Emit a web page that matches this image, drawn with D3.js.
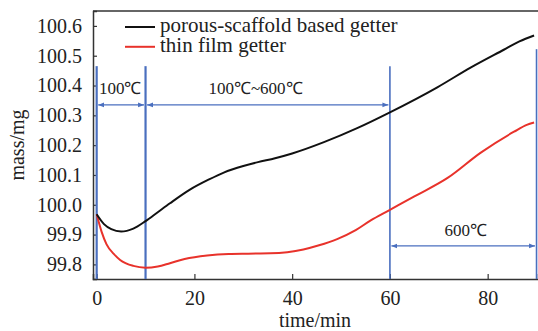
<!DOCTYPE html>
<html>
<head>
<meta charset="utf-8">
<script src="https://cdn.jsdelivr.net/npm/d3@7"></script>
<style>
  body { margin: 0; background: #fff; }
  text { font-family: "Liberation Serif", "Times New Roman", serif; fill: #222; }
</style>
</head>
<body>
<svg id="chart"></svg>
<script>
// данные
let blackTime = [0, 1.5, 3, 5, 7.5, 10, 12.5, 15, 19, 23, 26, 30, 33, 36.5, 40, 46.5, 53.3, 60, 69.7, 76.5, 83.3, 86.5, 89.5];
let blackMass = [99.968, 99.935, 99.918, 99.910, 99.920, 99.945, 99.975, 100.005, 100.05, 100.085, 100.108, 100.13, 100.143, 100.156, 100.172, 100.21, 100.257, 100.31, 100.394, 100.46, 100.52, 100.548, 100.568];

let redTime = [0, 1, 2, 3.5, 4.8, 7.5, 10, 12.5, 15, 18, 22.6, 27, 31, 35.5, 39, 42.3, 45.5, 49.2, 53, 56, 60, 65, 71.8, 78.6, 85.4, 88, 89.5];
let redMass = [99.968, 99.91, 99.868, 99.835, 99.815, 99.795, 99.789, 99.793, 99.804, 99.818, 99.83, 99.835, 99.836, 99.837, 99.841, 99.85, 99.864, 99.885, 99.915, 99.947, 99.983, 100.028, 100.09, 100.175, 100.245, 100.268, 100.276];

let seriesNames = ["porous-scaffold based getter", "thin film getter"];
let seriesColors = ["#111111", "#e8322b"];

let xTicks = [0, 20, 40, 60, 80];
let yTicks = [99.8, 99.9, 100.0, 100.1, 100.2, 100.3, 100.4, 100.5, 100.6];

// границы этапов нагрева (мин) и подписи
let stageLines = [0, 10, 60, 90];
let stageArrows = [
  { from: 0, to: 10, label: "100℃" },
  { from: 10, to: 60, label: "100℃~600℃" },
  { from: 60, to: 90, label: "600℃" }
];

let width = 538, height = 331;
let margin = { left: 93, top: 11, right: 0, bottom: 52 };

let svg = d3.select("#chart").attr("width", width).attr("height", height);

let x = d3.scaleLinear().domain([-0.75, 90.3]).range([margin.left, width - margin.right]);
let y = d3.scaleLinear().domain([99.751, 100.65]).range([height - margin.bottom, margin.top]);

let blue = "#4a6fbf";
let axisColor = "#333";

// верхняя рамка
svg.append("line")
  .attr("x1", margin.left).attr("x2", width)
  .attr("y1", margin.top).attr("y2", margin.top)
  .attr("stroke", axisColor).attr("stroke-width", 1.5);

// оси
let xAxis = svg.append("g")
  .attr("transform", `translate(0,${height - margin.bottom})`)
  .call(d3.axisBottom(x).tickValues(xTicks).tickSize(-5).tickPadding(12).tickFormat(d3.format("d")));
let yAxis = svg.append("g")
  .attr("transform", `translate(${margin.left},0)`)
  .call(d3.axisLeft(y).tickValues(yTicks).tickSize(-4).tickPadding(11).tickFormat(d3.format(".1f")));

[xAxis, yAxis].forEach(a => {
  a.select(".domain").attr("stroke", axisColor).attr("stroke-width", 1.5);
  a.selectAll(".tick line").attr("stroke", axisColor).attr("stroke-width", 1.2);
  a.selectAll(".tick text")
    .style("font-family", "'Liberation Serif', serif")
    .style("font-size", "20px")
    .attr("fill", "#222");
});

// подписи осей
svg.append("text")
  .attr("x", 315).attr("y", 327)
  .attr("text-anchor", "middle")
  .style("font-size", "20px")
  .text("time/min");
svg.append("text")
  .attr("transform", "translate(24,145) rotate(-90)")
  .attr("text-anchor", "middle")
  .style("font-size", "20px")
  .text("mass/mg");

// вертикальные линии этапов
svg.selectAll(".stage")
  .data(stageLines)
  .join("line")
  .attr("class", "stage")
  .attr("x1", d => x(d)).attr("x2", d => x(d))
  .attr("y1", d => d === 90 ? y(100.522) : y(100.465))
  .attr("y2", height - margin.bottom)
  .attr("stroke", blue)
  .attr("stroke-width", d => d <= 10 ? 2.2 : 1.6);

// кривые
let line = d3.line().curve(d3.curveMonotoneX);
let blackPts = blackTime.map((t, i) => [x(t), y(blackMass[i])]);
let redPts = redTime.map((t, i) => [x(t), y(redMass[i])]);

svg.append("path")
  .attr("d", line(redPts))
  .attr("fill", "none")
  .attr("stroke", seriesColors[1])
  .attr("stroke-width", 2);
svg.append("path")
  .attr("d", line(blackPts))
  .attr("fill", "none")
  .attr("stroke", seriesColors[0])
  .attr("stroke-width", 2);

// стрелки
svg.append("defs").append("marker")
  .attr("id", "arr")
  .attr("viewBox", "0 0 10 10")
  .attr("refX", 10).attr("refY", 5)
  .attr("markerWidth", 6).attr("markerHeight", 6)
  .attr("markerUnits", "userSpaceOnUse")
  .attr("orient", "auto-start-reverse")
  .append("path")
  .attr("d", "M0,1 L10,5 L0,9 Z")
  .attr("fill", blue);

let arrowY = [y(100.335), y(100.335), y(99.862)];
let labelY = [y(100.385), y(100.385), y(99.91)];
let labelX = [x(4.8), x(32.5), x(75.5)];

stageArrows.forEach((a, i) => {
  svg.append("line")
    .attr("x1", x(a.from) + 1.5).attr("x2", x(a.to) - 1.5)
    .attr("y1", arrowY[i]).attr("y2", arrowY[i])
    .attr("stroke", blue).attr("stroke-width", 1.3)
    .attr("marker-start", "url(#arr)")
    .attr("marker-end", "url(#arr)");
  svg.append("text")
    .attr("x", labelX[i]).attr("y", labelY[i])
    .attr("text-anchor", "middle")
    .attr("dominant-baseline", "middle")
    .style("font-size", "17px")
    .text(a.label);
});

// легенда
let legend = svg.append("g").attr("transform", "translate(125,27)");
seriesNames.forEach((name, i) => {
  let g = legend.append("g").attr("transform", `translate(0,${i * 19.8})`);
  g.append("line")
    .attr("x1", 0).attr("x2", 30)
    .attr("stroke", seriesColors[i]).attr("stroke-width", 2);
  g.append("text")
    .attr("x", 35).attr("y", 0)
    .attr("dominant-baseline", "middle")
    .style("font-size", "21px")
    .text(name);
});
</script>
</body>
</html>
